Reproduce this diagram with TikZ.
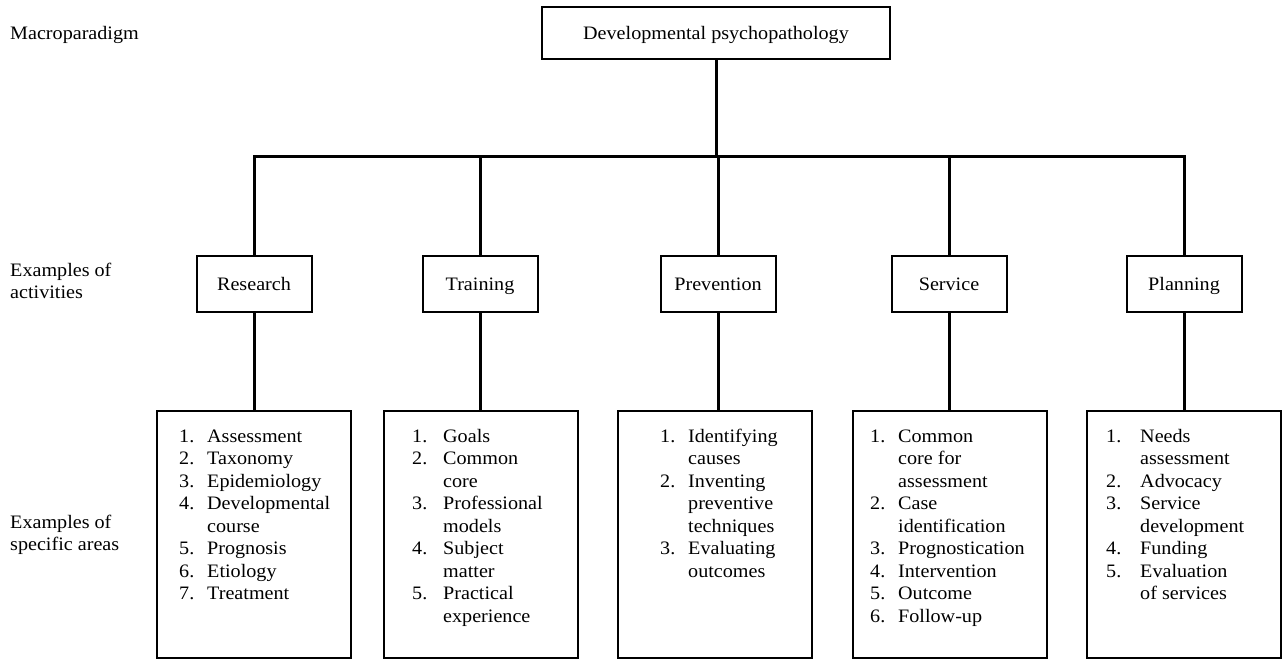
\documentclass[tikz,border=0pt]{standalone}
\usepackage{fontspec}
\setmainfont{Liberation Serif}[FakeStretch=1.06]
\newlength\itemw
\setlength\itemw{28pt}
\newcommand\itemno[1]{\makebox[\itemw][l]{#1}}
\begin{document}
\begin{tikzpicture}[x=1pt,y=-1pt,
  every node/.style={font=\fontsize{19}{22.5}\selectfont},
  box/.style={draw, line width=2pt, inner sep=0pt, outer sep=0pt},
  topbox/.style={box, minimum width=348pt, minimum height=52pt, text height=12.6pt, text depth=0pt},
  actbox/.style={box, minimum width=115pt, minimum height=56pt, text height=12.6pt, text depth=0pt},
  areabox/.style={box, minimum width=194pt, minimum height=247pt},
  wire/.style={line width=3pt, line join=miter},
  rowlabel/.style={anchor=base west, inner sep=0pt},
  areatext/.style={anchor=base west, inner sep=0pt}
]
\useasboundingbox (0,0) rectangle (1285,664);

% level labels on the left
\node[rowlabel] (labMacro) at (10,39) {Macroparadigm};
\node[rowlabel] (labAct) at (10,276) {\begin{tabular}[t]{@{}l@{}}Examples of\\activities\end{tabular}};
\node[rowlabel] (labArea) at (10,528) {\begin{tabular}[t]{@{}l@{}}Examples of\\specific areas\end{tabular}};

% top of the hierarchy
\node[topbox] (top) at (716,33) {Developmental psychopathology};
\coordinate (bus) at (0,156);

% activities
\node[actbox] (res)  at (254,284)  {Research};
\node[actbox] (tra)  at (480,284)  {Training};
\node[actbox] (prev) at (718,284)  {Prevention};
\node[actbox] (serv) at (949,284)  {Service};
\node[actbox] (plan) at (1184,284) {Planning};

% specific areas
\node[areabox] (resA)  at (254,534)  {};
\node[areabox] (traA)  at (481,534)  {};
\node[areabox] (prevA) at (715,534)  {};
\node[areabox] (servA) at (950,534)  {};
\node[areabox] (planA) at (1184,534) {};

\node[areatext] (resL) at ([xshift=22pt]resA.west |- 0,442) {\begin{tabular}[t]{@{}l@{}}
\itemno{1.}Assessment\\
\itemno{2.}Taxonomy\\
\itemno{3.}Epidemiology\\
\itemno{4.}Developmental\\
\itemno{}course\\
\itemno{5.}Prognosis\\
\itemno{6.}Etiology\\
\itemno{7.}Treatment
\end{tabular}};

\node[areatext] (traL) at ([xshift=28pt]traA.west |- 0,442) {\setlength\itemw{31pt}\begin{tabular}[t]{@{}l@{}}
\itemno{1.}Goals\\
\itemno{2.}Common\\
\itemno{}core\\
\itemno{3.}Professional\\
\itemno{}models\\
\itemno{4.}Subject\\
\itemno{}matter\\
\itemno{5.}Practical\\
\itemno{}experience
\end{tabular}};

\node[areatext] (prevL) at ([xshift=42pt]prevA.west |- 0,442) {\begin{tabular}[t]{@{}l@{}}
\itemno{1.}Identifying\\
\itemno{}causes\\
\itemno{2.}Inventing\\
\itemno{}preventive\\
\itemno{}techniques\\
\itemno{3.}Evaluating\\
\itemno{}outcomes
\end{tabular}};

\node[areatext] (servL) at ([xshift=17pt]servA.west |- 0,442) {\begin{tabular}[t]{@{}l@{}}
\itemno{1.}Common\\
\itemno{}core for\\
\itemno{}assessment\\
\itemno{2.}Case\\
\itemno{}identification\\
\itemno{3.}Prognostication\\
\itemno{4.}Intervention\\
\itemno{5.}Outcome\\
\itemno{6.}Follow-up
\end{tabular}};

\node[areatext] (planL) at ([xshift=19pt]planA.west |- 0,442) {\setlength\itemw{34pt}\begin{tabular}[t]{@{}l@{}}
\itemno{1.}Needs\\
\itemno{}assessment\\
\itemno{2.}Advocacy\\
\itemno{3.}Service\\
\itemno{}development\\
\itemno{4.}Funding\\
\itemno{5.}Evaluation\\
\itemno{}of services
\end{tabular}};

% connectors
\draw[wire] (top.south) -- (top.south |- bus);
\draw[wire] (res.north) -- (res.north |- bus) -| (plan.north);
\draw[wire] (tra.north) -- (tra.north |- bus);
\draw[wire] (prev.north) -- (prev.north |- bus);
\draw[wire] (serv.north) -- (serv.north |- bus);

\draw[wire] (res.south) -- (resA.north -| res.south);
\draw[wire] (tra.south) -- (traA.north -| tra.south);
\draw[wire] (prev.south) -- (prevA.north -| prev.south);
\draw[wire] (serv.south) -- (servA.north -| serv.south);
\draw[wire] (plan.south) -- (planA.north -| plan.south);
\end{tikzpicture}
\end{document}
